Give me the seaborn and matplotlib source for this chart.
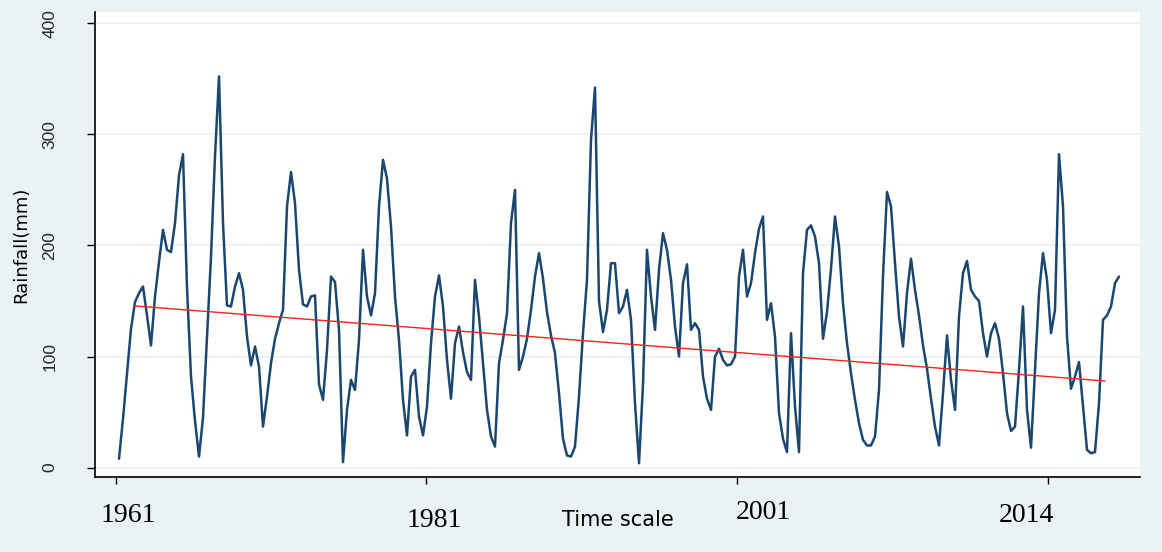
import numpy as np
import pandas as pd
import matplotlib
matplotlib.use("Agg")
import matplotlib.pyplot as plt
import seaborn as sns

# rainfall, one value per equal time step (mm)
rain = [
    8, 44, 85, 125, 149, 157, 163, 137, 110, 154,
    185, 214, 196, 194, 220, 263, 282, 162, 82, 42,
    10, 45, 118, 190, 280, 352, 220, 146, 145, 163,
    175, 160, 118, 92, 109, 91, 37, 64, 94, 116,
    130, 142, 235, 266, 238, 178, 147, 145, 154, 155,
    75, 61, 106, 172, 167, 124, 5, 52, 79, 70,
    115, 196, 154, 137, 157, 235, 277, 260, 217, 154,
    115, 61, 29, 82, 88, 46, 29, 55, 112, 154,
    173, 145, 97, 62, 112, 127, 104, 86, 79, 169,
    136, 94, 52, 28, 19, 94, 115, 139, 220, 250,
    88, 100, 116, 142, 172, 193, 170, 140, 119, 103,
    67, 26, 11, 10, 19, 64, 121, 169, 295, 342,
    150, 122, 142, 184, 184, 139, 145, 160, 133, 58,
    4, 75, 196, 154, 124, 178, 211, 196, 169, 127,
    100, 166, 183, 124, 130, 124, 82, 62, 52, 100,
    107, 97, 92, 93, 100, 172, 196, 154, 166, 193,
    215, 226, 133, 148, 118, 49, 26, 14, 121, 55,
    14, 175, 214, 218, 208, 184, 116, 140, 179, 226,
    199, 148, 112, 85, 61, 40, 25, 20, 20, 28,
    70, 172, 248, 235, 184, 136, 109, 157, 188, 160,
    137, 110, 89, 62, 37, 20, 67, 119, 79, 52,
    136, 175, 186, 160, 154, 150, 121, 100, 121, 130,
    116, 85, 49, 33, 37, 88, 145, 52, 18, 88,
    157, 193, 169, 121, 142, 282, 235, 118, 71, 82,
    95, 55, 16, 13, 14, 58, 133, 137, 145, 166,
    172,
]

# linear trend, start and end as drawn
trend_step = [4, 246.5]
trend_rain = [145.5, 78]

# x axis ticks and their (offset) year labels
year_ticks = [-0.75, 76.75, 154.5, 232.25]
year_labels = ["1961", "1981", "2001", "2014"]
y_ticks = [0, 100, 200, 300, 400]

# where the year labels sit (x in data steps, y in axes fraction)
label_x = [2.25, 78.75, 161, 226.75]
label_y = [-0.082, -0.093, -0.077, -0.083]

df = pd.DataFrame({"step": np.arange(len(rain)), "rain": rain})
trend_df = pd.DataFrame({"step": trend_step, "rain": trend_rain})

sns.set_theme(style="ticks")
plt.rcParams["font.family"] = ["DejaVu Sans"]

bg = "#EAF2F3"
fig = plt.figure(figsize=(11.62, 5.52), dpi=100, facecolor=bg)
ax = fig.add_axes([95 / 1162, 75 / 552, 1045 / 1162, 465 / 552])
ax.set_facecolor("white")

sns.lineplot(data=df, x="step", y="rain", ax=ax, color="#1A476F", lw=1.8)
sns.lineplot(data=trend_df, x="step", y="rain", ax=ax, color="#FF1E1E", lw=1.0)

ax.set_xlim(-6, 255.25)
ax.set_ylim(-8.4, 410)

ax.set_yticks(y_ticks)
ax.set_yticklabels([str(v) for v in y_ticks], rotation=90, va="center",
                   fontsize=12.5, family="Liberation Sans")
ax.yaxis.grid(True, color=bg, lw=1.3)
ax.xaxis.grid(False)

ax.set_xticks(year_ticks)
ax.set_xticklabels([""] * len(year_ticks))
ax.tick_params(axis="y", length=6, width=1, color="black", pad=21)
ax.tick_params(axis="x", length=5, width=1, color="black")

for lx, ly, lab in zip(label_x, label_y, year_labels):
    ax.text(lx, ly, lab, transform=ax.get_xaxis_transform(), ha="center", va="center",
            fontsize=20, family="Liberation Serif", color="black")

ax.set_ylabel("Rainfall(mm)", fontsize=13, color="black")
ax.yaxis.set_label_coords(-0.062, 0.5)
ax.set_xlabel("Time scale", fontsize=15, color="black")
ax.xaxis.set_label_coords(0.5, -0.072)

for side in ["top", "right"]:
    ax.spines[side].set_visible(False)
for side in ["left", "bottom"]:
    ax.spines[side].set_color("black")
    ax.spines[side].set_linewidth(1.2)

fig.savefig("out.png", dpi=100, facecolor=bg)
